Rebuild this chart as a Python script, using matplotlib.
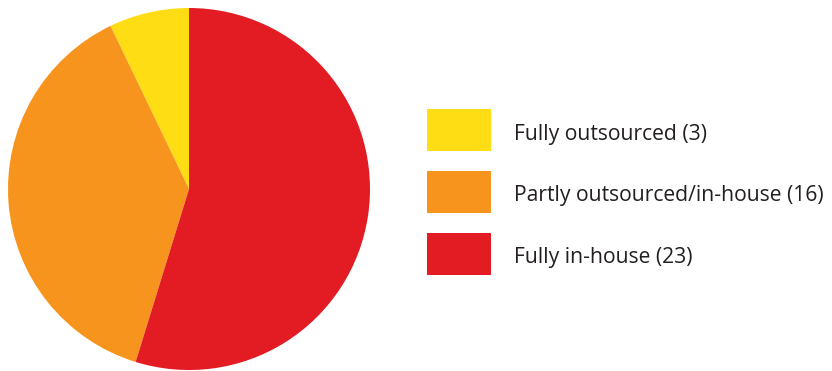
import matplotlib.pyplot as plt
from matplotlib.patches import Rectangle

labels = ["Fully outsourced", "Partly outsourced/in-house", "Fully in-house"]
counts = [3, 16, 23]
colors = ["#FFDD15", "#F7941D", "#E31B23"]

W, H = 832, 371
fig = plt.figure(figsize=(W / 100, H / 100), dpi=100)

# pie, centred at (189, 189) px with radius ~181 px
ax = fig.add_axes([8 / W, 1 / H, 362 / W, 362 / H])
ax.pie(counts, colors=colors, startangle=90, counterclock=True,
       wedgeprops=dict(linewidth=0))
ax.set_xlim(-1, 1)
ax.set_ylim(-1, 1)
ax.set_aspect("equal")
ax.axis("off")

# legend boxes and labels
box_x, box_w, box_h = 427, 64, 42
tops = [109, 171, 233]
for lab, n, c, top in zip(labels, counts, colors, tops):
    fig.patches.append(Rectangle((box_x / W, 1 - (top + box_h) / H), box_w / W, box_h / H,
                                 transform=fig.transFigure, facecolor=c, edgecolor="none"))
    fig.text(514 / W, 1 - (top + box_h / 2 + 4) / H, "{} ({})".format(lab, n),
             fontsize=15.2, color="#231F20", va="center", ha="left",
             family=["Open Sans", "DejaVu Sans"])

fig.savefig("out.png", dpi=100)
